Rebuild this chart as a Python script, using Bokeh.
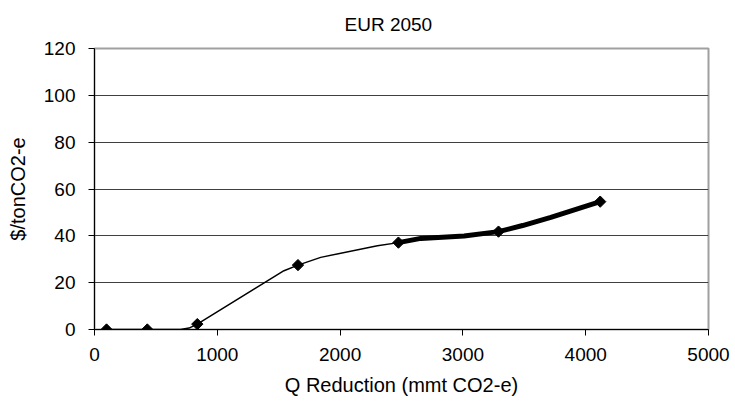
import numpy as np
from bokeh.plotting import figure
from bokeh.models import Range1d, FixedTicker
from bokeh.embed import file_html
from bokeh.resources import INLINE

# Data
thin_x = [98, 430, 700, 770, 837, 1543, 1657, 1842, 2304, 2475]
thin_y = [0, 0, 0, 0.6, 2.3, 25.1, 27.5, 30.8, 35.8, 37.1]
thick_x = [2475, 2657, 3010, 3290, 3486, 3716, 4118]
thick_y = [37.1, 38.9, 39.9, 41.8, 44.4, 47.9, 54.6]
mark_x = [98, 430, 837, 1657, 2475, 3290, 4118]
mark_y = [0, 0, 2.3, 27.5, 37.1, 41.8, 54.6]
x_ticks = [0, 1000, 2000, 3000, 4000, 5000]
y_ticks = [0, 20, 40, 60, 80, 100, 120]
title_text = "EUR 2050"

FONT = "Liberation Sans"

p = figure(width=730, height=410, output_backend="svg", toolbar_location=None,
           x_range=Range1d(0, 5000), y_range=Range1d(0, 120),
           title=title_text,
           min_border_left=94, min_border_right=22, min_border_top=48, min_border_bottom=81)

p.title.align = "left"
p.title.offset = 250
p.title.vertical_align = "top"
p.title.text_font = FONT
p.title.text_font_size = "19px"
p.title.text_font_style = "normal"
p.title.text_color = "black"
p.title.standoff = 24

p.background_fill_color = "white"
p.border_fill_color = "white"
p.outline_line_color = "#a0a0a0"
p.outline_line_width = 2

p.xgrid.grid_line_color = None
p.ygrid.grid_line_color = "#404040"
p.ygrid.grid_line_width = 1
p.ygrid.ticker = FixedTicker(ticks=y_ticks)

p.xaxis.ticker = FixedTicker(ticks=x_ticks)
p.yaxis.ticker = FixedTicker(ticks=y_ticks)

for ax in (p.xaxis[0], p.yaxis[0]):
    ax.axis_line_color = "black"
    ax.axis_line_width = 1
    ax.major_tick_line_color = "black"
    ax.major_tick_in = 0
    ax.major_tick_out = 6
    ax.minor_tick_line_color = None
    ax.major_label_text_font = FONT
    ax.major_label_text_font_size = "19px"
    ax.major_label_text_color = "black"
    ax.axis_label_text_font = FONT
    ax.axis_label_text_font_size = "20px"
    ax.axis_label_text_font_style = "normal"
    ax.axis_label_text_color = "black"

p.xaxis.axis_label = "Q Reduction (mmt CO2-e)"
p.yaxis.axis_label = "$/tonCO2-e"
p.xaxis.major_label_standoff = 12
p.xaxis.axis_label_standoff = 10
p.yaxis.major_label_standoff = 13
p.yaxis.axis_label_standoff = 12

p.line(thin_x, thin_y, line_color="black", line_width=1.5, line_join="round")
p.line(thick_x, thick_y, line_color="black", line_width=5, line_join="round", line_cap="round")
p.scatter(mark_x, mark_y, marker="square", angle=np.pi / 4, size=8,
          fill_color="black", line_color="black")

open("out.html", "w").write(file_html(p, INLINE))
